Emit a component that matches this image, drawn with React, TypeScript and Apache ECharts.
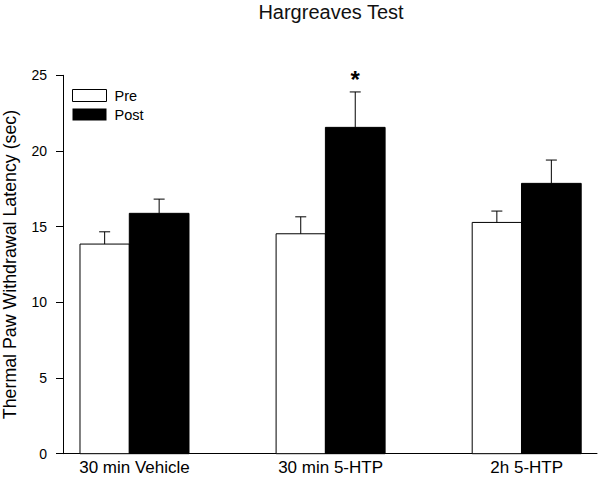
import React, { useEffect, useRef } from "react";
import * as echarts from "echarts";

const categories = ["30 min Vehicle", "30 min 5-HTP", "2h 5-HTP"];
const seriesNames = ["Pre", "Post"];
const preMean = [13.85, 14.53, 15.28];
const preErr = [0.81, 1.12, 0.75];
const postMean = [15.88, 21.56, 17.86];
const postErr = [0.94, 2.34, 1.54];
const significance = ["", "*", ""];
const yTicks = { min: 0, max: 25, interval: 5 };

const FONT = "'Liberation Sans', Arial, sans-serif";

function makeRender(x0: number, x1: number, fill: string, withSig: boolean) {
  return (params: any, api: any) => {
    const i = api.value(0);
    const m = api.value(1);
    const e = api.value(2);
    const base = api.coord([i, 0]);
    const top = api.coord([i, m]);
    const errTop = api.coord([i, m + e]);
    const cx = base[0];
    const bx = cx + (x0 + x1) / 2;
    const children: any[] = [
      {
        type: "rect",
        shape: { x: cx + x0, y: top[1], width: x1 - x0, height: base[1] - top[1] },
        style: { fill, stroke: "#000", lineWidth: 1 },
      },
      {
        type: "line",
        shape: { x1: bx, y1: top[1], x2: bx, y2: errTop[1] },
        style: { stroke: "#000", lineWidth: 1 },
      },
      {
        type: "line",
        shape: { x1: bx - 5.5, y1: errTop[1], x2: bx + 5.5, y2: errTop[1] },
        style: { stroke: "#000", lineWidth: 1 },
      },
    ];
    if (withSig && significance[params.dataIndex]) {
      children.push({
        type: "text",
        x: bx,
        y: errTop[1] - 0.5,
        style: {
          text: significance[params.dataIndex],
          fill: "#000",
          font: `bold 24px ${FONT}`,
          textAlign: "center",
          textVerticalAlign: "bottom",
        },
      });
    }
    return { type: "group", children };
  };
}

export default function App() {
  const ref = useRef<HTMLDivElement>(null);
  useEffect(() => {
    if (!ref.current) return;
    const chart = echarts.init(ref.current, null, { renderer: "svg" });
    chart.setOption({
      animation: false,
      backgroundColor: "#fff",
      title: {
        text: "Hargreaves Test",
        left: 331,
        top: 3,
        padding: 0,
        textAlign: "center",
        textStyle: { fontFamily: FONT, fontSize: 20, lineHeight: 17, fontWeight: "normal", color: "#111" },
      },
      legend: {
        orient: "vertical",
        left: 67,
        top: 83,
        itemWidth: 34,
        itemHeight: 12,
        itemGap: 4,
        icon: "rect",
        textStyle: { fontFamily: FONT, fontSize: 14.5, color: "#000", padding: [0, 0, 0, 3] },
        data: [
          { name: seriesNames[0], itemStyle: { color: "#fff", borderColor: "#000", borderWidth: 1 } },
          { name: seriesNames[1], itemStyle: { color: "#000", borderWidth: 0 } },
        ],
      },
      grid: { left: 63, right: 3, top: 75.3, bottom: 24.3, containLabel: false, outerBoundsMode: "none" },
      xAxis: {
        type: "value",
        min: -0.3646,
        max: 2.3585,
        splitLine: { show: false },
        axisTick: { show: false },
        axisLine: { show: true, onZero: false, lineStyle: { color: "#000", width: 1 } },
        axisLabel: {
          customValues: [0, 1, 2],
          formatter: (v: number) => categories[Math.round(v)] ?? "",
          fontFamily: FONT,
          fontSize: 17,
          lineHeight: 14,
          color: "#000",
          margin: 7,
        },
      },
      yAxis: {
        type: "value",
        min: yTicks.min,
        max: yTicks.max,
        interval: yTicks.interval,
        splitLine: { show: false },
        axisLine: { show: true, onZero: false, lineStyle: { color: "#000", width: 1 } },
        axisTick: { show: true, inside: false, length: 7, lineStyle: { color: "#000" } },
        axisLabel: { fontFamily: FONT, fontSize: 14, color: "#000", margin: 16 },
        name: "Thermal Paw Withdrawal Latency (sec)",
        nameLocation: "middle",
        nameGap: 44.5,
        nameTextStyle: { fontFamily: FONT, fontSize: 17.8, color: "#000" },
      },
      series: [
        {
          name: seriesNames[0],
          type: "custom",
          itemStyle: { color: "#fff", borderColor: "#000" },
          encode: { x: 0, y: 1 },
          data: preMean.map((m, i) => [i, m, preErr[i]]),
          renderItem: makeRender(-54.5, -5.2, "#fff", false),
        },
        {
          name: seriesNames[1],
          type: "custom",
          itemStyle: { color: "#000" },
          encode: { x: 0, y: 1 },
          data: postMean.map((m, i) => [i, m, postErr[i]]),
          renderItem: makeRender(-5.2, 54.5, "#000", true),
        },
      ],
    });
    return () => chart.dispose();
  }, []);
  return (
    <div
      ref={ref}
      style={{ position: "fixed", left: 0, top: 0, width: 600, height: 478, background: "#fff" }}
    />
  );
}
